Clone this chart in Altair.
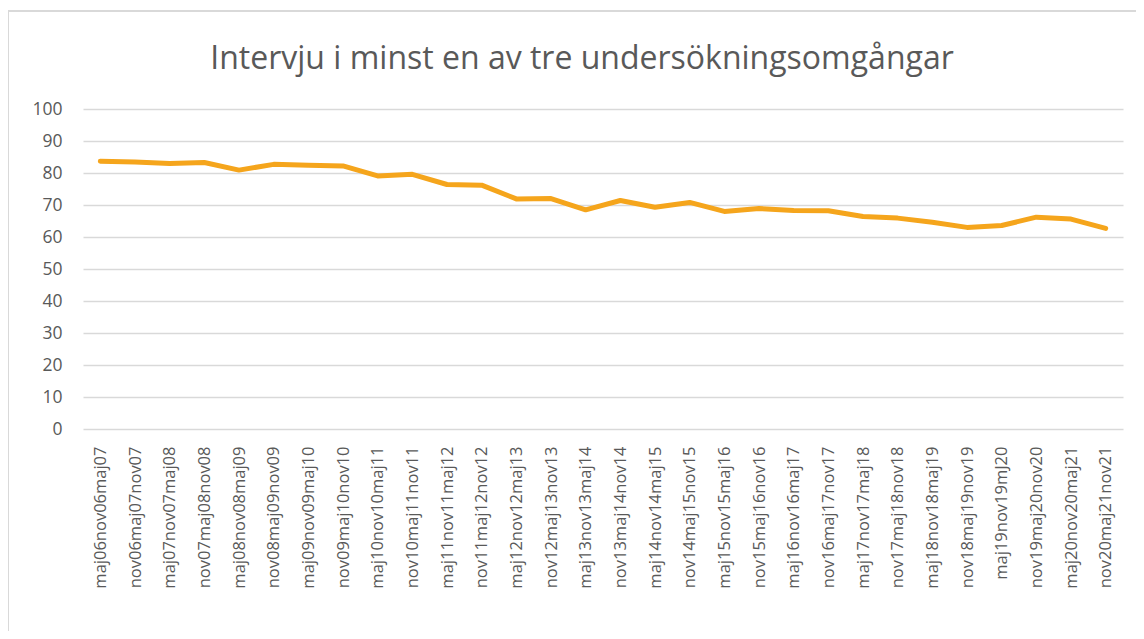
import altair as alt
import pandas as pd

categories = [
    "maj06nov06maj07", "nov06maj07nov07", "maj07nov07maj08", "nov07maj08nov08",
    "maj08nov08maj09", "nov08maj09nov09", "maj09nov09maj10", "nov09maj10nov10",
    "maj10nov10maj11", "nov10maj11nov11", "maj11nov11maj12", "nov11maj12nov12",
    "maj12nov12maj13", "nov12maj13nov13", "maj13nov13maj14", "nov13maj14nov14",
    "maj14nov14maj15", "nov14maj15nov15", "maj15nov15maj16", "nov15maj16nov16",
    "maj16nov16maj17", "nov16maj17nov17", "maj17nov17maj18", "nov17maj18nov18",
    "maj18nov18maj19", "nov18maj19nov19", "maj19nov19mJ20", "nov19maj20nov20",
    "maj20nov20maj21", "nov20maj21nov21",
]
values = [
    83.7, 83.4, 83.0, 83.3, 80.9, 82.7, 82.4, 82.2, 79.1, 79.6,
    76.4, 76.2, 71.9, 72.0, 68.5, 71.4, 69.3, 70.8, 68.0, 68.9,
    68.3, 68.2, 66.4, 65.9, 64.6, 63.0, 63.6, 66.2, 65.6, 62.7,
]
y_ticks = [0, 10, 20, 30, 40, 50, 60, 70, 80, 90, 100]
title_text = "Intervju i minst en av tre undersökningsomgångar"

df = pd.DataFrame({"period": categories, "value": values})
title_df = pd.DataFrame({"t": [title_text]})

FONT = "Open Sans"
GRAY = "#595959"

line = alt.Chart(df).mark_line(
    color="#F5A51C", strokeWidth=5, strokeCap="round", strokeJoin="round"
).encode(
    x=alt.X(
        "period:N",
        sort=categories,
        scale=alt.Scale(type="point", padding=0.5),
        axis=alt.Axis(
            title=None,
            labelAngle=-90,
            labelFont=FONT,
            labelFontSize=16.5,
            labelColor=GRAY,
            labelPadding=17,
            ticks=False,
            domain=False,
            grid=False,
            labelOverlap=False,
        ),
    ),
    y=alt.Y(
        "value:Q",
        scale=alt.Scale(domain=[0, 100], nice=False, zero=True),
        axis=alt.Axis(
            title=None,
            values=y_ticks,
            labelFont=FONT,
            labelFontSize=17.5,
            labelColor=GRAY,
            labelPadding=21,
            ticks=False,
            domain=False,
            grid=True,
            gridColor="#D9D9D9",
            gridWidth=1.5,
        ),
    ),
)

border = alt.Chart(title_df).mark_rect(
    fill=None, stroke="#D9D9D9", strokeWidth=2
).encode(
    x=alt.value(-75), x2=alt.value(1060), y=alt.value(-98), y2=alt.value(540)
)

title = alt.Chart(title_df).mark_text(
    font=FONT, fontSize=32, color=GRAY, align="center", baseline="alphabetic"
).encode(
    x=alt.value(499), y=alt.value(-40), text="t:N"
)

chart = alt.layer(border, title, line).properties(
    width=1040,
    height=320,
    padding={"left": 75, "top": 101, "right": 13, "bottom": 202},
    autosize=alt.AutoSizeParams(type="none"),
).configure_view(stroke=None)

chart.save("out.html", embed_options={"renderer": "svg", "actions": False})
